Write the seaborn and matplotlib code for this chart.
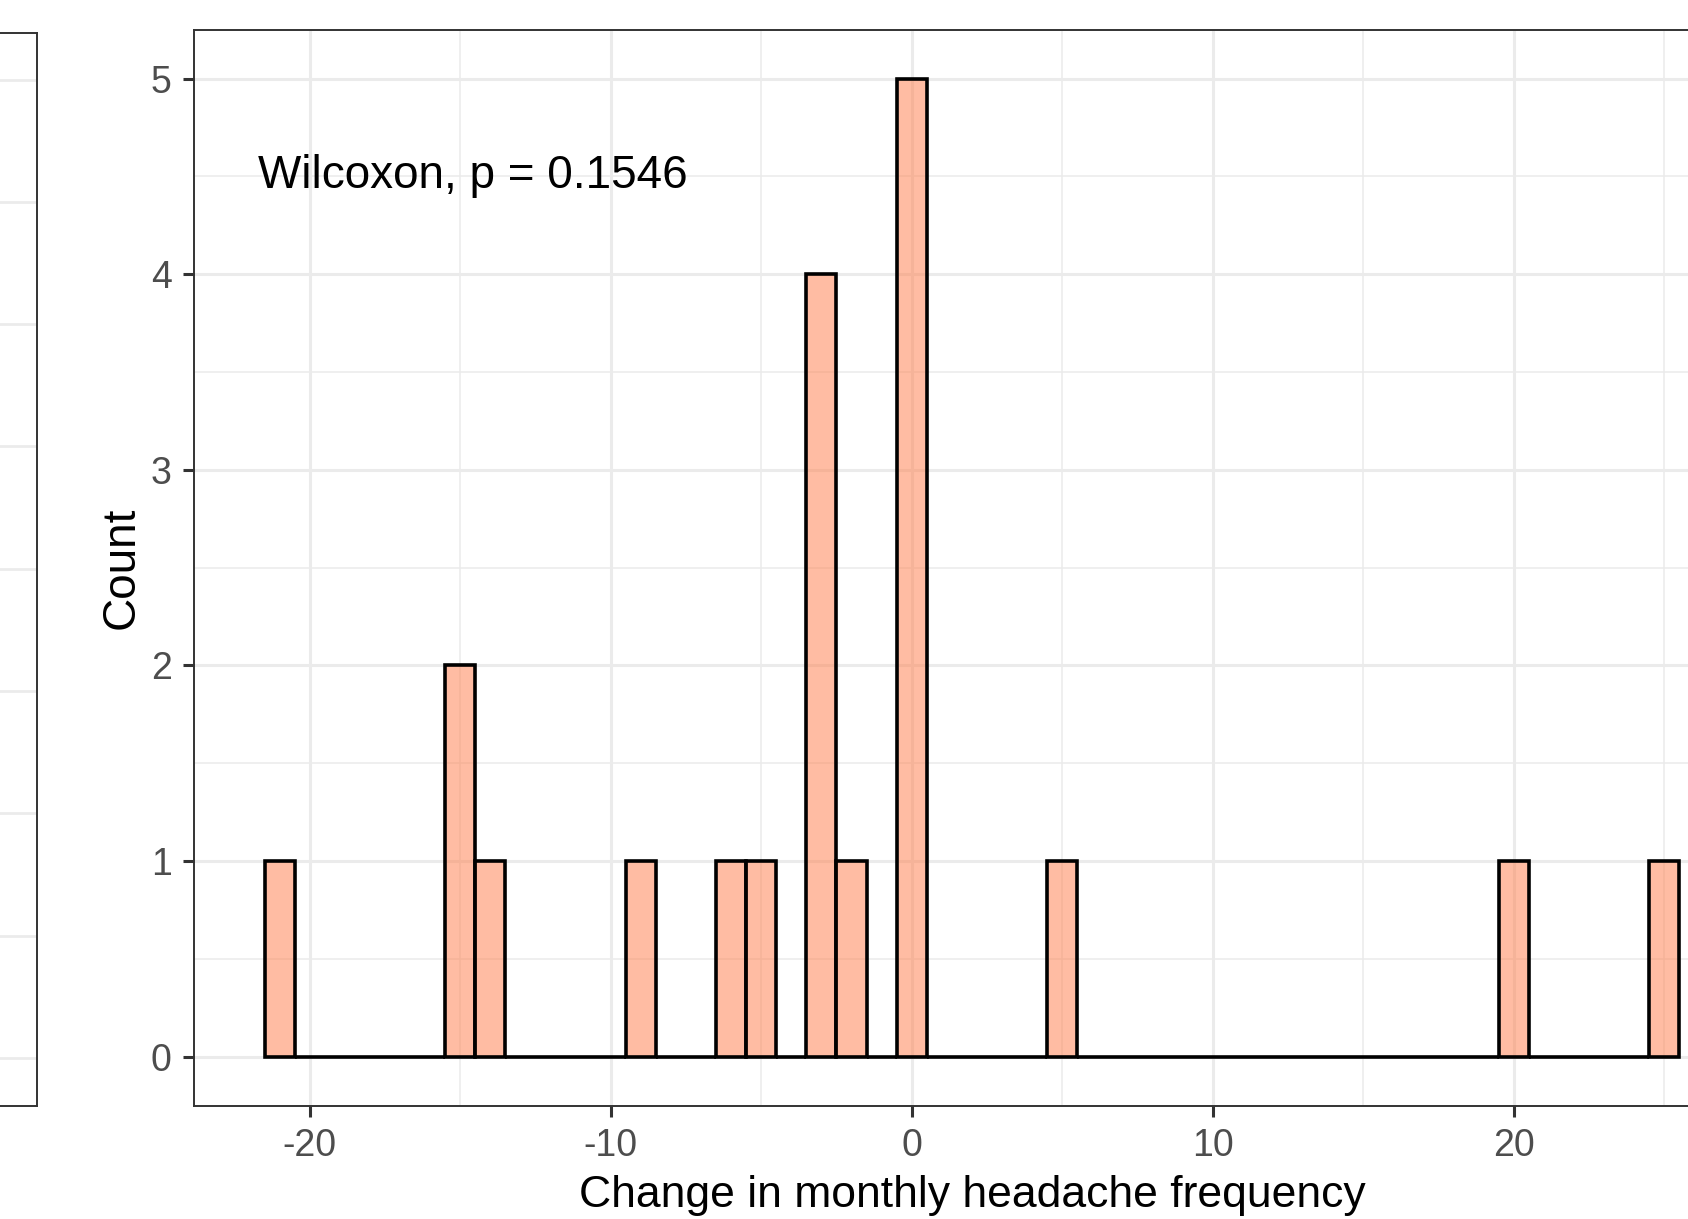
import seaborn as sns
import matplotlib.pyplot as plt
from matplotlib.ticker import MultipleLocator

# change in monthly headache frequency, one value per patient
change_values = [-21, -15, -15, -14, -9, -6, -5, -3, -3, -3, -3, -2,
                 0, 0, 0, 0, 0, 5, 20, 25]
bin_range = (-21.5, 25.5)
x_ticks = [-20, -10, 0, 10, 20]
y_ticks = [0, 1, 2, 3, 4, 5]
annot_text = "Wilcoxon, p = 0.1546"

sns.set_theme(style="white")
plt.rcParams["font.family"] = ["Liberation Sans", "DejaVu Sans"]
plt.rcParams["axes.unicode_minus"] = False

fig = plt.figure(figsize=(16.88, 12.19), dpi=100)

# fragment of the neighbouring panel on the left
ax0 = fig.add_axes([-0.4, 0.0930, 0.4219, 0.8799])
ax0.set_ylim(-0.39, 8.38)
ax0.yaxis.set_major_locator(MultipleLocator(1))
ax0.grid(axis="y", color="#EBEBEB", linewidth=2.0)
ax0.set_xticks([])
ax0.tick_params(left=False, labelleft=False)
for s in ax0.spines.values():
    s.set_color("#333333")
    s.set_linewidth(1.4)

ax = fig.add_axes([0.1148, 0.0930, 0.9219, 0.8827])
sns.histplot(x=change_values, binwidth=1, binrange=bin_range, ax=ax,
             color="coral", edgecolor="black", linewidth=2.6)
for p in ax.patches:
    p.set_alpha(None)
    p.set_facecolor((1.0, 0.50, 0.31, 0.52))
    p.set_edgecolor("black")
    p.set_joinstyle("miter")
    p.set_zorder(3)

ax.set_xlim(-23.85, 27.85)
ax.set_ylim(-0.25, 5.25)
ax.set_xticks(x_ticks)
ax.set_yticks(y_ticks)
ax.xaxis.set_minor_locator(MultipleLocator(5))
ax.yaxis.set_minor_locator(MultipleLocator(0.5))
ax.set_axisbelow(True)
ax.grid(which="major", color="#EBEBEB", linewidth=2.2)
ax.grid(which="minor", color="#EBEBEB", linewidth=1.1)
ax.tick_params(which="major", direction="out", length=8, width=2.2,
               color="#333333", labelsize=27, labelcolor="#4D4D4D",
               pad=8, bottom=True, left=True)
ax.tick_params(which="minor", length=0)
for s in ax.spines.values():
    s.set_color("#333333")
    s.set_linewidth(1.4)

ax.set_xlabel("Change in monthly headache frequency", fontsize=32,
              color="black", labelpad=8)
ax.set_ylabel("Count", fontsize=33, color="black", labelpad=5)
ax.text(-21.7, 4.50, annot_text, fontsize=33, color="black",
        ha="left", va="center")

fig.savefig("out.png", dpi=100)
